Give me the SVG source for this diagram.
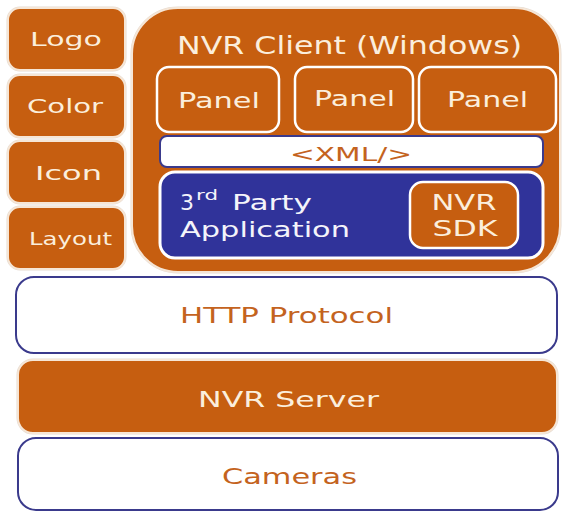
<svg xmlns="http://www.w3.org/2000/svg" width="564" height="512" viewBox="0 0 564 512">
<defs>
<style>
.org{fill:#C65E10;stroke:#F6E6D6;stroke-width:2}
.orgw{fill:#C65E10;stroke:#FFFFFF;stroke-width:2.5}
.wht{fill:#FFFFFF;stroke:#3A3A8C;stroke-width:2}
.navy{fill:#30339A;stroke:#FFFFFF;stroke-width:3}
.shadow{fill:none;stroke:#E6DCD2;stroke-width:3}
text{font-family:"DejaVu Sans","Verdana","Liberation Sans",sans-serif;}
.tl{fill:#FBEEDC}
.to{fill:#C4631E}
.tw{fill:#F4F4FA}
</style>
</defs>
<rect width="564" height="512" fill="#FFFFFF"/>

<g id="logo">
<rect x="8" y="8" width="117" height="62" rx="12" class="shadow"/>
<rect x="8" y="8" width="117" height="62" rx="12" class="org"/>
<text x="30" y="46" font-size="20" class="tl" textLength="72" lengthAdjust="spacingAndGlyphs">Logo</text>
</g>
<g id="color">
<rect x="8" y="75" width="117" height="62" rx="12" class="shadow"/>
<rect x="8" y="75" width="117" height="62" rx="12" class="org"/>
<text x="27" y="113" font-size="20" class="tl" textLength="76" lengthAdjust="spacingAndGlyphs">Color</text>
</g>
<g id="icon">
<rect x="8" y="141" width="117" height="62" rx="12" class="shadow"/>
<rect x="8" y="141" width="117" height="62" rx="12" class="org"/>
<text x="35" y="180" font-size="20" class="tl" textLength="67" lengthAdjust="spacingAndGlyphs">Icon</text>
</g>
<g id="layout">
<rect x="8" y="207" width="117" height="62" rx="12" class="shadow"/>
<rect x="8" y="207" width="117" height="62" rx="12" class="org"/>
<text x="29" y="245" font-size="17" class="tl" textLength="83" lengthAdjust="spacingAndGlyphs">Layout</text>
</g>

<g id="nvr-client">
<rect x="132" y="8" width="428" height="264" rx="46" class="shadow"/>
<rect x="132" y="8" width="428" height="264" rx="46" class="org"/>
<text x="177" y="54" font-size="24" class="tl" textLength="345" lengthAdjust="spacingAndGlyphs">NVR Client (Windows)</text>
</g>
<g id="panel-1">
<rect x="157" y="67" width="122" height="65" rx="12" class="orgw"/>
<text x="178" y="108" font-size="22" class="tl" textLength="82" lengthAdjust="spacingAndGlyphs">Panel</text>
</g>
<g id="panel-2">
<rect x="295" y="67" width="118" height="65" rx="12" class="orgw"/>
<text x="314" y="106" font-size="22" class="tl" textLength="81" lengthAdjust="spacingAndGlyphs">Panel</text>
</g>
<g id="panel-3">
<rect x="419" y="67" width="137" height="65" rx="12" class="orgw"/>
<text x="447" y="107" font-size="22" class="tl" textLength="81" lengthAdjust="spacingAndGlyphs">Panel</text>
</g>
<g id="xml">
<rect x="160" y="136" width="383" height="31" rx="7" class="wht"/>
<text x="290" y="161" font-size="20" class="to" textLength="122" lengthAdjust="spacingAndGlyphs">&lt;XML/&gt;</text>
</g>
<g id="third-party-application">
<rect x="160" y="172" width="383" height="86" rx="15" class="navy"/>
<text x="180" y="210" font-size="22" class="tw" textLength="14" lengthAdjust="spacingAndGlyphs">3</text>
<text x="196" y="200" font-size="14" class="tw" textLength="22" lengthAdjust="spacingAndGlyphs">rd</text>
<text x="232" y="210" font-size="22" class="tw" textLength="80" lengthAdjust="spacingAndGlyphs">Party</text>
<text x="180" y="237" font-size="22" class="tw" textLength="170" lengthAdjust="spacingAndGlyphs">Application</text>
</g>
<g id="nvr-sdk">
<rect x="410" y="182" width="108" height="66" rx="13" class="orgw"/>
<text x="464" y="210" font-size="22" class="tl" text-anchor="middle" textLength="65" lengthAdjust="spacingAndGlyphs">NVR</text>
<text x="465" y="236" font-size="22" class="tl" text-anchor="middle" textLength="65" lengthAdjust="spacingAndGlyphs">SDK</text>
</g>

<g id="http-protocol">
<rect x="16" y="277" width="541" height="76" rx="18" class="wht"/>
<text x="180" y="323" font-size="22" class="to" textLength="213" lengthAdjust="spacingAndGlyphs">HTTP Protocol</text>
</g>
<g id="nvr-server">
<rect x="18" y="360" width="539" height="73" rx="15" class="shadow"/>
<rect x="18" y="360" width="539" height="73" rx="15" class="org"/>
<text x="198" y="407" font-size="22" class="tl" textLength="181" lengthAdjust="spacingAndGlyphs">NVR Server</text>
</g>
<g id="cameras">
<rect x="18" y="438" width="540" height="72" rx="18" class="wht"/>
<text x="222" y="484" font-size="22" class="to" textLength="135" lengthAdjust="spacingAndGlyphs">Cameras</text>
</g>
<g id="connectors"/>
</svg>
